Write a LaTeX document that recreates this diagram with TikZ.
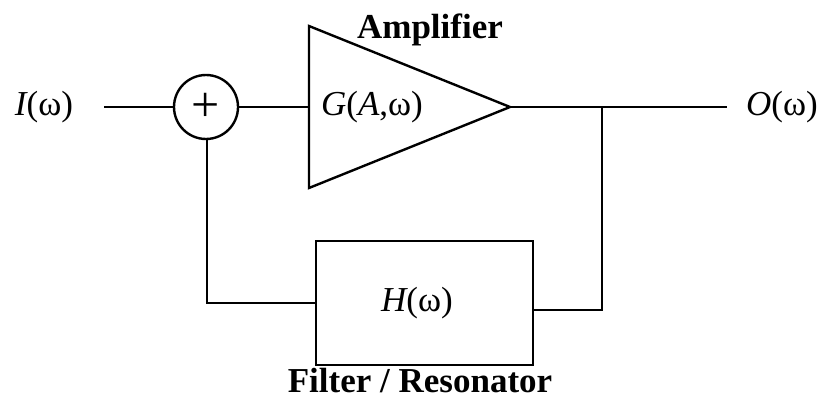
\documentclass[tikz,border=0pt]{standalone}
\usepackage{fontspec}
\setmainfont{Liberation Serif}
\begin{document}
\begin{tikzpicture}[x=1pt,y=-1pt,
  wire/.style={line width=2.4pt},
  lbl/.style={font=\fontsize{35}{40}\selectfont, inner sep=0pt},
  title/.style={font=\fontsize{35}{40}\selectfont\bfseries, inner sep=0pt}]
\useasboundingbox (0,0) rectangle (819,401);
% summing junction
\node[draw, circle, line width=2.4pt, minimum size=64pt, inner sep=0pt, font=\fontsize{50}{50}\selectfont] (sum) at (206,107) {\raisebox{-2pt}{+}};
% amplifier triangle
\coordinate (ampa) at (309,26);
\coordinate (ampb) at (309,188);
\coordinate (ampout) at (510,107);
\coordinate (ampin) at (309,107);
\draw[wire, line join=miter] (ampa) -- (ampout) -- (ampb) -- cycle;
\node[lbl] (glabel) at (372,107) {{\itshape G}({\itshape A},ω)};
\node[title] (amptitle) at (430,30) {Amplifier};
% filter box
\node[draw, line width=2.4pt, minimum width=217pt, minimum height=124pt, inner sep=0pt, lbl] (filt) at (424.5,303) {};
\node[lbl] (hlabel) at (417,303) {{\itshape H}(ω)};
\node[title] (filttitle) at (420,381) {Filter / Resonator};
% input / output labels
\node[lbl] (in) at (44,107) {{\itshape I}(ω)};
\node[lbl] (out) at (782,107) {{\itshape O}(ω)};
\coordinate (instart) at (104,107);
\coordinate (outend) at (727,107);
\coordinate (junc) at (602,107);
\coordinate (jbot) at (602,310);
\coordinate (fright) at (533,310);
\coordinate (fleft) at (316,303);
\coordinate (lcorner) at (207,303);
% connectors
\draw[wire] (instart) -- (sum.west);
\draw[wire] (sum.east) -- (ampin);
\draw[wire] (ampout) -- (outend);
\draw[wire] (junc) -- (jbot) -- (fright);
\draw[wire] (fleft) -- (lcorner) -- (sum.south -| lcorner);
\end{tikzpicture}
\end{document}
